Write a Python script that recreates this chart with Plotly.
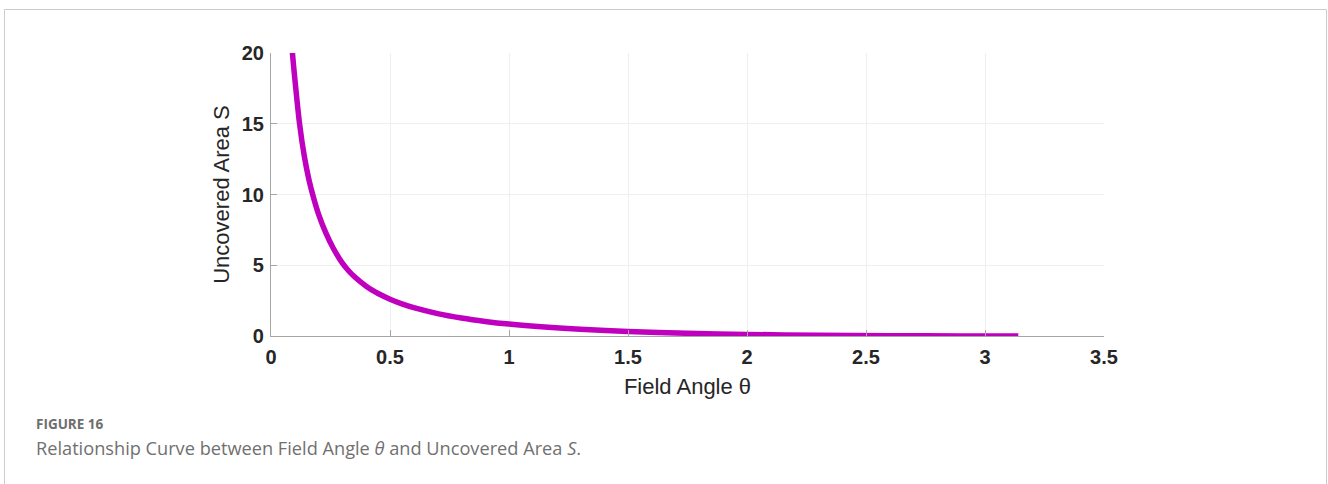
import plotly.graph_objects as go

# Values
theta = [0.085, 0.09, 0.10, 0.12, 0.14, 0.16, 0.18, 0.20, 0.23, 0.26, 0.30, 0.325, 0.35,
         0.375, 0.40, 0.425, 0.45, 0.50, 0.55, 0.60, 0.70, 0.80, 0.90, 1.00, 1.15,
         1.30, 1.50, 1.75, 2.00, 2.30, 2.60, 2.90, 3.14]
area = [21.2, 20.0, 18.2, 15.0, 12.7, 11.0, 9.7, 8.6, 7.3, 6.25, 5.15, 4.63, 4.2,
        3.84, 3.52, 3.24, 3.0, 2.6, 2.27, 2.0, 1.58, 1.27, 1.03, 0.84, 0.63,
        0.47, 0.32, 0.19, 0.11, 0.055, 0.02, 0.004, 0.0]

x_ticks = [0, 0.5, 1, 1.5, 2, 2.5, 3, 3.5]
x_tick_labels = ["0", "0.5", "1", "1.5", "2", "2.5", "3", "3.5"]
y_ticks = [0, 5, 10, 15, 20]
y_tick_labels = ["0", "5", "10", "15", "20"]

W, H = 1328, 484
L, R, T, B = 271, 1104, 53, 336  # plot-area box in page px


def px(xp):
    return (xp - L) / (R - L)


def py(yp):
    return (B - yp) / (B - T)


fig = go.Figure()
fig.add_trace(go.Scatter(
    x=theta, y=area, mode="lines",
    line=dict(color="#BF00BF", width=5.5, shape="spline", smoothing=0.8),
    showlegend=False, hoverinfo="x+y",
))

tick_font = dict(family="Liberation Sans, Arial, sans-serif", size=20, color="#262626", weight="bold")
title_font = dict(family="Liberation Sans, Arial, sans-serif", size=22, color="#262626")

fig.update_layout(
    width=W, height=H,
    margin=dict(l=L, r=W - R, t=T, b=H - B, pad=0),
    paper_bgcolor="white", plot_bgcolor="white",
    xaxis=dict(
        range=[0, 3.5], tickvals=x_ticks, ticktext=x_tick_labels,
        showgrid=True, gridcolor="#efefef", gridwidth=1,
        showline=True, linecolor="#a6a6a6", linewidth=1.2,
        ticks="inside", ticklen=6, tickcolor="#a6a6a6", tickwidth=1,
        zeroline=False, tickfont=tick_font, ticklabelstandoff=3,
        title=dict(text="Field Angle θ", font=title_font, standoff=11),
    ),
    yaxis=dict(
        range=[0, 20], tickvals=y_ticks, ticktext=y_tick_labels,
        showgrid=True, gridcolor="#efefef", gridwidth=1,
        showline=True, linecolor="#a6a6a6", linewidth=1.2,
        ticks="inside", ticklen=6, tickcolor="#a6a6a6", tickwidth=1,
        zeroline=False, tickfont=tick_font, ticklabelstandoff=2,
        title=dict(text="Uncovered Area S", font=title_font, standoff=5),
    ),
    shapes=[
        dict(type="rect", xref="paper", yref="paper",
             x0=px(4.5), x1=px(1326.5), y0=py(495), y1=py(9.5),
             line=dict(color="#cccccc", width=1), fillcolor="rgba(0,0,0,0)",
             layer="below"),
    ],
    annotations=[
        dict(text="FIGURE 16", xref="paper", yref="paper", x=px(34), y=py(424),
             xanchor="left", yanchor="middle", showarrow=False,
             font=dict(family="Open Sans, sans-serif", size=13.5, color="#6e6e6e", weight="bold")),
        dict(text="Relationship Curve between Field Angle <i>θ</i> and Uncovered Area <i>S</i>.",
             xref="paper", yref="paper", x=px(34), y=py(448),
             xanchor="left", yanchor="middle", showarrow=False,
             font=dict(family="Open Sans, sans-serif", size=18.2, color="#707070")),
    ],
)

# remove the default page margin so the figure sits at the window origin
fig.write_html("out.html", config={"displayModeBar": False},
               post_script="document.body.style.margin='0';")
